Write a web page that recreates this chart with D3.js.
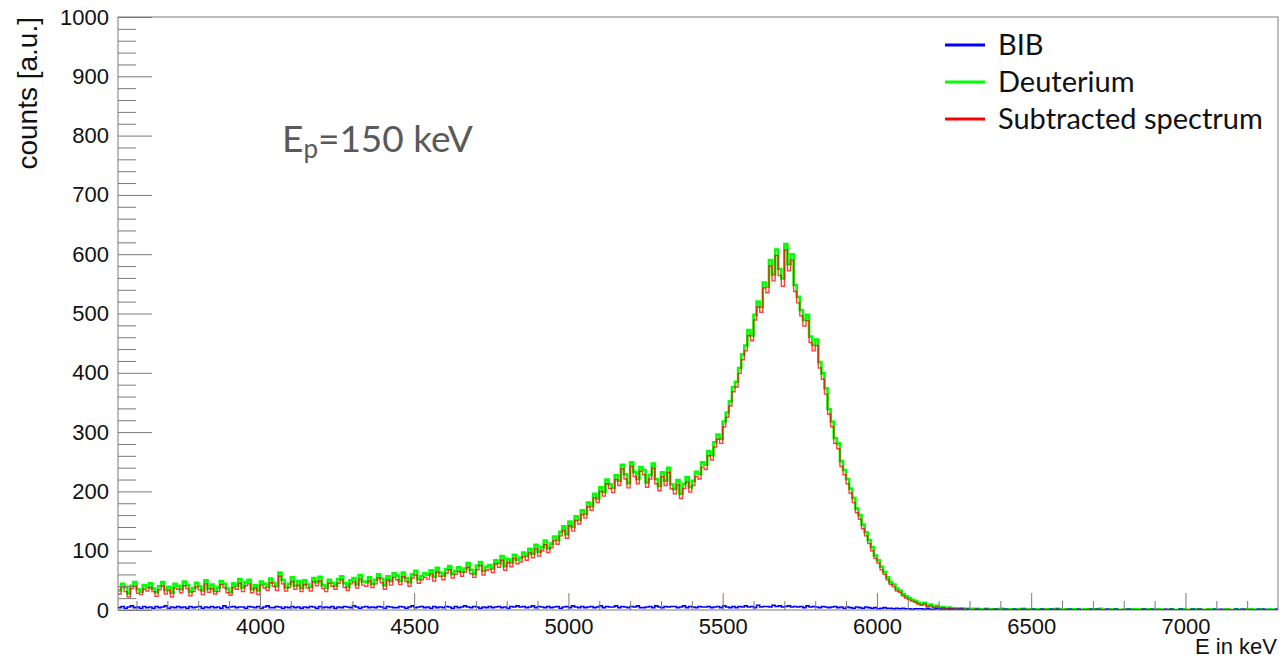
<!DOCTYPE html>
<html>
<head>
<meta charset="utf-8">
<script src="https://cdn.jsdelivr.net/npm/d3@7"></script>
<style>
  body { margin: 0; background: #fff; }
  svg { display: block; }
</style>
</head>
<body>
<div id="chart"></div>
<script>
// histogram: 10 keV bins from 3540 keV to 7300 keV
const binLo = 3540, binHi = 7300, binW = 10;
const seriesNames = ["BIB", "Deuterium", "Subtracted spectrum"];
const xTicks = [4000, 4500, 5000, 5500, 6000, 6500, 7000];
const yTicks = [0, 100, 200, 300, 400, 500, 600, 700, 800, 900, 1000];

// counts per bin, one row = 100 keV
const deuterium = [
  33,44,39,28,41,47,35,31,42,38,
  45,36,30,40,47,34,39,29,44,41,
  35,48,42,31,37,46,40,33,50,36,
  43,32,38,49,44,36,30,45,41,52,
  38,47,51,35,42,33,48,44,39,53,
  46,40,63,51,38,44,55,41,49,37,
  50,43,39,54,47,56,42,38,51,46,
  41,52,57,45,39,50,54,43,59,48,
  47,55,44,51,60,53,42,57,49,62,
  58,49,63,54,47,60,66,52,57,62,
  59,67,56,71,63,58,69,74,61,66,
  72,64,70,79,68,61,75,81,66,73,
  76,70,84,79,91,74,86,80,93,85,
  88,97,91,103,95,110,98,106,117,104,
  112,124,118,132,141,128,149,140,158,152,
  168,162,181,175,196,188,207,199,220,212,
  206,227,218,245,229,214,249,233,221,241,
  236,215,228,247,221,209,232,218,240,212,
  204,219,196,213,224,207,218,233,229,249,
  245,268,261,283,296,289,318,333,352,376,
  385,408,431,446,472,463,498,520,511,552,
  545,590,566,608,575,559,617,583,600,548,
  528,506,489,498,461,447,456,418,399,374,
  339,318,290,281,251,236,221,205,189,171,
  160,144,131,118,106,92,84,73,64,55,
  47,43,36,33,27,23,20,17,15,12,
  10,12,7,9,5,7,4,5,3,4,
  3,3,2,3,2,2,1,2,2,1,
  1,2,1,1,0,1,2,1,1,0,
  1,0,1,2,1,0,1,1,0,1,
  0,1,1,0,2,1,0,1,0,1,
  1,0,0,1,1,0,1,0,2,0,
  0,1,0,1,0,0,1,1,0,1,
  1,0,1,0,1,0,0,1,0,0,
  0,1,0,0,1,1,0,0,1,0,
  1,0,0,1,0,1,0,0,0,1,
  0,0,1,0,0,1,0,1,0,0,
  1,0,0,1,0,0
];

const subtracted = [
  27,39,31,22,36,40,28,26,35,32,
  38,31,23,34,41,27,33,22,37,35,
  29,41,36,24,31,39,34,26,44,30,
  36,27,31,43,38,29,25,38,35,45,
  31,41,44,29,37,26,42,37,33,46,
  40,33,57,44,32,38,48,35,42,31,
  43,37,32,48,41,49,36,31,45,40,
  35,45,51,38,33,44,47,37,52,42,
  40,49,38,44,54,46,35,51,42,55,
  51,43,56,48,40,54,59,45,51,55,
  52,61,49,64,57,51,62,68,54,60,
  65,57,64,72,61,55,68,75,59,67,
  69,63,78,72,84,67,80,73,87,78,
  81,90,84,96,88,103,91,100,110,97,
  105,117,111,125,134,121,142,133,151,145,
  161,155,174,168,189,181,200,192,213,205,
  198,220,210,238,221,206,242,225,213,234,
  228,207,221,239,213,201,225,210,232,204,
  196,211,188,205,216,199,210,225,221,241,
  237,260,253,275,288,281,309,325,344,368,
  376,399,422,437,463,454,489,511,502,543,
  535,580,555,598,564,546,607,572,590,537,
  518,496,479,488,451,437,446,408,389,364,
  330,309,281,272,242,228,213,197,181,164,
  153,137,125,112,100,87,79,68,60,51,
  43,39,32,30,24,20,17,15,13,10,
  8,10,5,7,4,5,3,4,2,3,
  2,2,1,2,1,1,0,1,1,0,
  1,1,0,1,0,1,1,0,1,0,
  0,1,1,0,1,0,1,0,0,1,
  1,0,0,1,1,0,0,1,0,0,
  0,1,0,0,1,0,1,0,1,0,
  1,0,1,0,0,1,0,0,1,0,
  0,0,1,1,0,0,1,0,0,1,
  1,0,0,0,1,0,0,1,0,0,
  0,1,0,1,0,0,0,0,1,0,
  1,0,0,0,1,0,1,0,0,0,
  0,1,0,0,0,1
];

const bib = [
  4,6,3,5,7,4,5,3,6,4,
  5,3,6,4,5,7,3,5,4,6,
  4,5,3,6,4,5,6,3,5,4,
  6,4,5,3,7,4,5,6,4,5,
  5,3,6,5,4,6,3,5,7,4,
  4,6,5,3,5,4,6,4,5,3,
  5,4,6,5,3,6,4,5,4,6,
  3,5,4,6,5,4,7,5,3,5,
  6,4,5,4,6,5,3,6,5,4,
  4,6,5,3,5,7,4,5,6,4,
  5,3,6,4,5,4,6,5,3,6,
  4,5,7,5,4,6,5,3,5,4,
  6,4,5,6,4,5,3,6,5,7,
  5,6,4,5,7,4,6,5,4,6,
  4,5,6,3,5,6,4,7,5,4,
  6,4,5,6,4,5,7,4,6,5,
  5,7,4,6,5,4,6,5,7,4,
  4,5,6,4,7,5,4,6,5,6,
  6,4,5,7,4,6,5,4,6,5,
  5,6,4,5,6,4,7,5,4,6,
  4,6,5,7,5,6,4,8,5,6,
  6,5,8,6,7,5,6,7,5,6,
  5,6,4,7,5,6,5,4,6,5,
  4,5,6,4,5,3,5,4,3,5,
  4,3,5,4,3,4,2,3,4,3,
  3,2,3,2,3,2,2,1,2,2,
  2,1,2,1,1,2,1,1,0,1,
  1,0,1,1,0,1,0,0,1,0,
  0,1,0,0,1,0,0,1,0,0,
  1,0,0,1,0,0,1,0,0,1,
  0,0,1,0,1,0,0,0,1,0,
  0,1,0,0,0,1,0,1,0,0,
  1,0,0,1,0,0,0,1,0,0,
  0,0,1,0,0,1,0,0,0,1,
  0,1,0,0,1,0,0,0,1,0,
  1,0,0,0,0,1,0,1,0,0,
  0,0,1,0,1,0,0,0,0,1,
  0,1,0,0,0,1
];

const W = 1284, H = 662;
const margin = {top: 17, right: 6, bottom: 52, left: 118},
  width = W - margin.left - margin.right,
  height = H - margin.top - margin.bottom;

const svg = d3.select("#chart")
  .append("svg")
    .attr("width", W)
    .attr("height", H)
  .append("g")
    .attr("transform", `translate(${margin.left},${margin.top})`);

const x = d3.scaleLinear().domain([binLo, binHi]).range([0, width]);
const y = d3.scaleLinear().domain([0, 1000]).range([height, 0]);

const axisCol = "#7a7a7a";
const labelFont = "Liberation Sans, Arial, Helvetica, sans-serif";

svg.append("clipPath").attr("id", "clip")
  .append("rect").attr("width", width).attr("height", height);

const edges = d3.range(binLo, binHi + 1, binW);

function stepLine(vals) {
  const pts = vals.map((v, i) => [edges[i], v]);
  pts.push([binHi, vals[vals.length - 1]]);
  return d3.line()
    .x(d => x(d[0]))
    .y(d => y(d[1]))
    .curve(d3.curveStepAfter)(pts);
}

const plot = svg.append("g").attr("clip-path", "url(#clip)");

plot.append("path")
  .attr("d", stepLine(deuterium))
  .attr("fill", "none")
  .attr("stroke", "#00ff00")
  .attr("stroke-width", 2.6);

plot.append("path")
  .attr("d", stepLine(subtracted))
  .attr("fill", "none")
  .attr("stroke", "#ff0000")
  .attr("stroke-width", 1.4)
  .attr("stroke-opacity", 0.75);

plot.append("path")
  .attr("d", stepLine(bib))
  .attr("fill", "none")
  .attr("stroke", "#0000ff")
  .attr("stroke-width", 1.6);

// x axis: major + minor ticks pointing inward
const xMinor = d3.range(3600, 7300, 100).filter(v => v % 500 !== 0);
svg.append("g")
  .attr("transform", `translate(0,${height})`)
  .call(d3.axisBottom(x).tickValues(xMinor).tickSize(-9).tickFormat(""))
  .call(g => g.select(".domain").remove());
const gx = svg.append("g")
  .attr("transform", `translate(0,${height})`)
  .call(d3.axisBottom(x).tickValues(xTicks).tickSize(-17).tickPadding(8).tickFormat(d3.format("d")))
  .call(g => g.select(".domain").remove());

// y axis
const yMinor = d3.range(20, 1000, 20).filter(v => v % 100 !== 0);
svg.append("g")
  .call(d3.axisLeft(y).tickValues(yMinor).tickSize(-18).tickFormat(""))
  .call(g => g.select(".domain").remove());
const gy = svg.append("g")
  .call(d3.axisLeft(y).tickValues(yTicks).tickSize(-34).tickPadding(9).tickFormat(d3.format("d")))
  .call(g => g.select(".domain").remove());

svg.selectAll(".tick line").attr("stroke", axisCol);
[gx, gy].forEach(g => g.selectAll("text")
  .style("font-family", labelFont)
  .style("font-size", "22px")
  .attr("fill", "#111"));

// frame
svg.append("rect")
  .attr("width", width)
  .attr("height", height)
  .attr("fill", "none")
  .attr("stroke", axisCol)
  .attr("stroke-width", 1);

// axis titles
svg.append("text")
  .attr("x", width - 1)
  .attr("y", height + 44)
  .attr("text-anchor", "end")
  .style("font-family", labelFont)
  .style("font-size", "22px")
  .attr("fill", "#111")
  .text("E in keV");

svg.append("text")
  .attr("transform", `translate(${37 - margin.left},0) rotate(-90)`)
  .attr("text-anchor", "end")
  .style("font-family", labelFont)
  .style("font-size", "28px")
  .attr("fill", "#111")
  .text("counts [a.u.]");

// annotation
const ann = svg.append("text")
  .attr("x", 282 - margin.left)
  .attr("y", 152 - margin.top)
  .style("font-family", "Lato, sans-serif")
  .style("font-size", "37px")
  .attr("fill", "#595959");
ann.append("tspan").text("E");
ann.append("tspan").style("font-size", "26px").attr("dy", 6).text("p");
ann.append("tspan").attr("dy", -6).text("=150 keV");

// legend
const legCols = ["#0000ff", "#00ff00", "#ff0000"];
const leg = svg.append("g")
  .attr("transform", `translate(${945 - margin.left},${45 - margin.top})`);
seriesNames.forEach((name, i) => {
  const row = leg.append("g").attr("transform", `translate(0,${i * 37})`);
  row.append("line")
    .attr("x1", 0).attr("x2", 40)
    .attr("stroke", legCols[i])
    .attr("stroke-width", 3);
  row.append("text")
    .attr("x", 53)
    .attr("y", 10)
    .style("font-family", "Lato, sans-serif")
    .style("font-size", "29px")
    .attr("fill", "#111")
    .text(name);
});
</script>
</body>
</html>
